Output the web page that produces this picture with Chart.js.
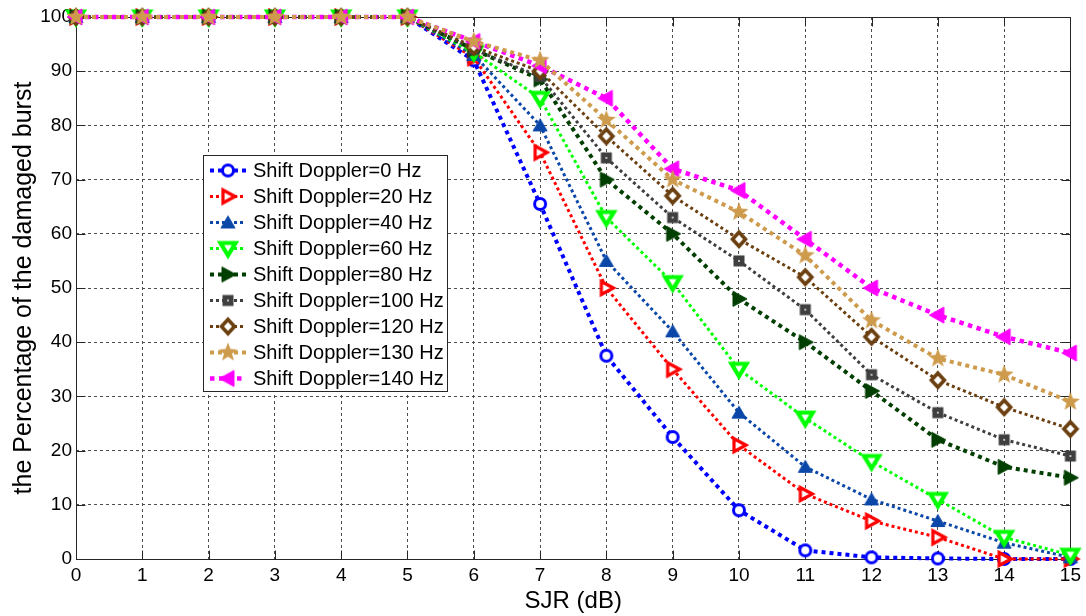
<!DOCTYPE html>
<html>
<head>
<meta charset="utf-8">
<script src="https://cdn.jsdelivr.net/npm/chart.js@4/dist/chart.umd.min.js"></script>
<style>
  html, body { margin: 0; padding: 0; background: #ffffff; }
  #c { display: block; }
</style>
</head>
<body>
<canvas id="c" width="1086" height="616"></canvas>
<script>
// SJR values (dB) on the horizontal axis
const sjr = [0, 1, 2, 3, 4, 5, 6, 7, 8, 9, 10, 11, 12, 13, 14, 15];

// Percentage of damaged bursts for each Doppler shift
const shift0   = [100, 100, 100, 100, 100, 100, 92,   65.5, 37.5, 22.5, 9,  1.6, 0.3, 0.1, 0,  0];
const shift20  = [100, 100, 100, 100, 100, 100, 92.5, 75,   50,   35,   21, 12,  7,   4,   0,  0];
const shift40  = [100, 100, 100, 100, 100, 100, 93,   80,   55,   42,   27, 17,  11,  7,   3,  0.3];
const shift60  = [100, 100, 100, 100, 100, 100, 93.5, 85,   63,   51,   35, 26,  18,  11,  4,  0.7];
const shift80  = [100, 100, 100, 100, 100, 100, 94,   88.5, 70,   60,   48, 40,  31,  22,  17, 15];
const shift100 = [100, 100, 100, 100, 100, 100, 94,   89,   74,   63,   55, 46,  34,  27,  22, 19];
const shift120 = [100, 100, 100, 100, 100, 100, 94.5, 90,   78,   67,   59, 52,  41,  33,  28, 24];
const shift130 = [100, 100, 100, 100, 100, 100, 95.5, 92,   81,   70,   64, 56,  44,  37,  34, 29];
const shift140 = [100, 100, 100, 100, 100, 100, 95.5, 91,   85,   72,   68, 59,  50,  45,  41, 38];

const seriesNames = [
  'Shift Doppler=0 Hz', 'Shift Doppler=20 Hz', 'Shift Doppler=40 Hz',
  'Shift Doppler=60 Hz', 'Shift Doppler=80 Hz', 'Shift Doppler=100 Hz',
  'Shift Doppler=120 Hz', 'Shift Doppler=130 Hz', 'Shift Doppler=140 Hz'
];
const seriesValues = [shift0, shift20, shift40, shift60, shift80, shift100, shift120, shift130, shift140];

// Axis ticks
const xTicks = [0, 1, 2, 3, 4, 5, 6, 7, 8, 9, 10, 11, 12, 13, 14, 15];
const yTicks = [0, 10, 20, 30, 40, 50, 60, 70, 80, 90, 100];

const FONT = "'Liberation Sans', Arial, Helvetica, sans-serif";

// Line / marker appearance per series (layer: lower = drawn later, on top)
const styles = [
  { color: '#0000ff', marker: 'circle',   width: 4,   dash: [4, 4],     layer: 9 },
  { color: '#ff0000', marker: 'triRopen', width: 3,   dash: [3, 3],     layer: 8 },
  { color: '#0a47a8', marker: 'triU',     width: 3,   dash: [3, 3],     layer: 7 },
  { color: '#00ff00', marker: 'triDopen', width: 3,   dash: [3, 3],     layer: 6 },
  { color: '#003f00', marker: 'triR',     width: 4,   dash: [4, 4],     layer: 5 },
  { color: '#3f3f3f', marker: 'square',   width: 3,   dash: [3, 3],     layer: 4 },
  { color: '#6b3f0f', marker: 'diamond',  width: 3,   dash: [3, 3],     layer: 3 },
  { color: '#cd9b4b', marker: 'star',     width: 4,   dash: [4, 4],     layer: 0 },
  { color: '#ff00ff', marker: 'triL',     width: 4.5, dash: [4.5, 4.5], layer: 1 }
];

// Draws a marker glyph onto a small canvas used as point style
function makeMarker(kind, color) {
  const S = 24;
  const c = document.createElement('canvas');
  c.width = S; c.height = S;
  const g = c.getContext('2d');
  g.translate(S / 2, S / 2);
  g.lineJoin = 'miter';
  const poly = (pts) => {
    g.beginPath();
    g.moveTo(pts[0][0], pts[0][1]);
    for (let i = 1; i < pts.length; i++) g.lineTo(pts[i][0], pts[i][1]);
    g.closePath();
  };
  g.strokeStyle = color;
  g.fillStyle = color;
  switch (kind) {
    case 'circle':
      g.beginPath(); g.arc(0, 0, 5.5, 0, Math.PI * 2);
      g.fillStyle = '#ffffff'; g.fill();
      g.lineWidth = 3; g.stroke();
      break;
    case 'triRopen':
      poly([[7, 0], [-5, -6.5], [-5, 6.5]]);
      g.fillStyle = '#ffffff'; g.fill();
      g.lineWidth = 3.2; g.stroke();
      break;
    case 'triU':
      poly([[0, -6.5], [7, 5.5], [-7, 5.5]]);
      g.fill(); g.lineWidth = 1; g.stroke();
      break;
    case 'triDopen':
      poly([[0, 7], [7.5, -5.5], [-7.5, -5.5]]);
      g.fillStyle = '#ffffff'; g.fill();
      g.lineWidth = 4.2; g.stroke();
      break;
    case 'triR':
      poly([[8, 0], [-6, -7.5], [-6, 7.5]]);
      g.fill(); g.lineWidth = 1; g.stroke();
      break;
    case 'square':
      g.fillRect(-5.5, -5.5, 11, 11);
      g.fillStyle = '#bdbdbd'; g.fillRect(-1, -1, 2, 2);
      break;
    case 'diamond':
      poly([[0, -7], [6.5, 0], [0, 7], [-6.5, 0]]);
      g.fillStyle = '#ffffff'; g.fill();
      g.lineWidth = 3.6; g.stroke();
      break;
    case 'star': {
      const pts = [];
      for (let i = 0; i < 10; i++) {
        const r = i % 2 === 0 ? 10 : 4.2;
        const a = -Math.PI / 2 + i * Math.PI / 5;
        pts.push([r * Math.cos(a), r * Math.sin(a)]);
      }
      poly(pts); g.fill();
      break;
    }
    case 'triL':
      poly([[-8.5, 0], [6, -8], [6, 8]]);
      g.fill(); g.lineWidth = 1; g.stroke();
      break;
  }
  return c;
}

const markers = styles.map(s => makeMarker(s.marker, s.color));

const datasets = seriesValues.map((vals, i) => ({
  label: seriesNames[i],
  data: vals.map((v, k) => ({ x: sjr[k], y: v })),
  borderColor: styles[i].color,
  backgroundColor: styles[i].color,
  borderWidth: styles[i].width,
  borderDash: styles[i].dash,
  borderCapStyle: 'butt',
  pointStyle: markers[i],
  pointRadius: 7,
  pointHoverRadius: 7,
  tension: 0,
  fill: false,
  clip: false,
  order: styles[i].layer
}));

// Box outline and inward tick marks around the plot area
const framePlugin = {
  id: 'frame',
  beforeDatasetsDraw(chart) {
    const { ctx, chartArea: a, scales } = chart;
    ctx.save();
    ctx.strokeStyle = '#262626';
    ctx.lineWidth = 1;
    ctx.setLineDash([]);
    const L = Math.round(a.left) + 0.5, R = Math.round(a.right) + 0.5;
    const T = Math.round(a.top) + 0.5, B = Math.round(a.bottom) + 0.5;
    ctx.strokeRect(L, T, R - L, B - T);
    const tl = 9;
    ctx.beginPath();
    xTicks.forEach(v => {
      const px = Math.round(scales.x.getPixelForValue(v)) + 0.5;
      ctx.moveTo(px, B); ctx.lineTo(px, B - tl);
      ctx.moveTo(px, T); ctx.lineTo(px, T + tl);
    });
    yTicks.forEach(v => {
      const py = Math.round(scales.y.getPixelForValue(v)) + 0.5;
      ctx.moveTo(L, py); ctx.lineTo(L + tl, py);
      ctx.moveTo(R, py); ctx.lineTo(R - tl, py);
    });
    ctx.stroke();
    ctx.restore();
  }
};

// Boxed legend placed inside the plot area
const legendPlugin = {
  id: 'insetLegend',
  afterDatasetsDraw(chart) {
    const { ctx } = chart;
    const box = { left: 203.5, top: 155.5, right: 447.5, bottom: 391.5 };
    ctx.save();
    ctx.fillStyle = '#ffffff';
    ctx.fillRect(box.left, box.top, box.right - box.left, box.bottom - box.top);
    ctx.strokeStyle = '#262626';
    ctx.lineWidth = 1;
    ctx.setLineDash([]);
    ctx.strokeRect(box.left, box.top, box.right - box.left, box.bottom - box.top);
    const firstY = 170.5, stepY = 26;
    chart.data.datasets.forEach((ds, i) => {
      const y = firstY + i * stepY;
      ctx.save();
      ctx.strokeStyle = ds.borderColor;
      ctx.lineWidth = ds.borderWidth;
      ctx.setLineDash(ds.borderDash);
      ctx.lineCap = 'butt';
      ctx.beginPath();
      ctx.moveTo(210, y); ctx.lineTo(246, y);
      ctx.stroke();
      ctx.restore();
      const m = ds.pointStyle;
      ctx.drawImage(m, 228 - m.width / 2, y - m.height / 2);
      ctx.fillStyle = '#000000';
      ctx.font = '20px ' + FONT;
      ctx.textBaseline = 'middle';
      ctx.textAlign = 'left';
      ctx.fillText(ds.label, 253, y + 1);
    });
    ctx.restore();
  }
};

new Chart(document.getElementById('c'), {
  type: 'line',
  data: { datasets },
  options: {
    responsive: false,
    animation: false,
    devicePixelRatio: 1,
    layout: { padding: { top: 17, right: 13, left: 0, bottom: 0 } },
    plugins: {
      legend: { display: false },
      tooltip: { enabled: false }
    },
    scales: {
      x: {
        type: 'linear',
        min: 0, max: 15,
        afterFit(scale) { scale.height = 57; },
        afterBuildTicks(scale) { scale.ticks = xTicks.map(v => ({ value: v })); },
        ticks: {
          color: '#000000',
          font: { family: FONT, size: 19 },
          padding: 5,
          maxRotation: 0,
          autoSkip: false
        },
        grid: { color: '#4d4d4d', lineWidth: 1, drawTicks: false },
        border: { display: false, dash: [3, 3] },
        title: {
          display: true,
          text: 'SJR (dB)',
          color: '#000000',
          font: { family: FONT, size: 24 },
          padding: { top: 5, bottom: 0 }
        }
      },
      y: {
        type: 'linear',
        min: 0, max: 100,
        afterFit(scale) { scale.width = 76; },
        afterBuildTicks(scale) { scale.ticks = yTicks.map(v => ({ value: v })); },
        ticks: {
          color: '#000000',
          font: { family: FONT, size: 19 },
          padding: 4,
          autoSkip: false
        },
        grid: { color: '#4d4d4d', lineWidth: 1, drawTicks: false },
        border: { display: false, dash: [3, 3] },
        title: {
          display: true,
          text: 'the Percentage of the damaged burst',
          color: '#000000',
          font: { family: FONT, size: 25 },
          padding: { top: 9, bottom: 0 }
        }
      }
    }
  },
  plugins: [framePlugin, legendPlugin]
});
</script>
</body>
</html>
